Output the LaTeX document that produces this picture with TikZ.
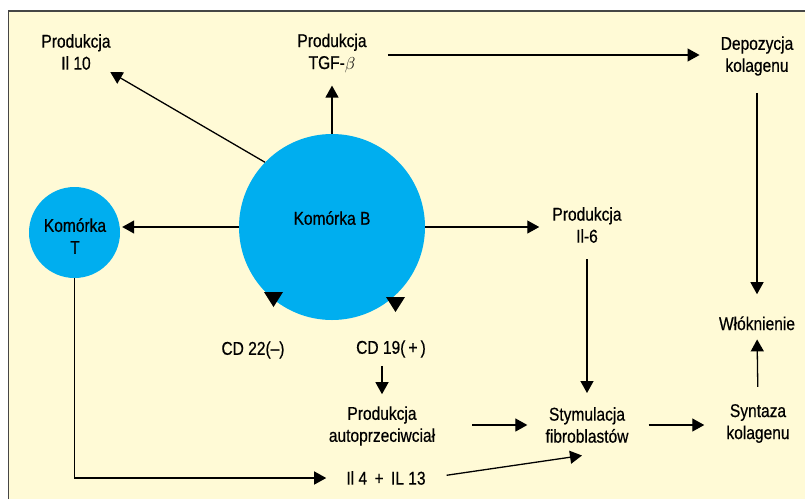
\documentclass[tikz,border=0pt]{standalone}
\usepackage{fontspec}
\setmainfont{Liberation Sans}[FakeStretch=0.84,FakeBold=0.5]
\usetikzlibrary{arrows.meta}
\definecolor{paleyellow}{RGB}{255,250,214}
\definecolor{cellblue}{RGB}{0,174,239}
\definecolor{framegray}{RGB}{70,70,70}

\begin{document}
\begin{tikzpicture}[x=1pt,y=-1pt,
  lbl/.style={align=center,inner sep=2pt,font=\fontsize{18.5}{22}\selectfont},
  cell/.style={circle,fill=cellblue,inner sep=0pt},
  arr/.style={line width=1.3pt,-{Triangle[length=12pt,width=13pt]}}]
  % canvas and frame (cut at right and bottom)
  \useasboundingbox (0,0) rectangle (805,499);
  \fill[white] (0,0) rectangle (805,499);
  \fill[paleyellow] (8.5,11) rectangle (805,499);
  \draw[framegray,line width=1.2pt] (8.5,499) -- (8.5,11) -- (805,11);

  % cells
  \node[cell,minimum size=186pt] (cellB) at (332,227) {};
  \node[lbl] (cellBtxt) at (332,218) {Komórka B};
  \node[cell,minimum size=91pt] (cellT) at (74.5,232.5) {};
  \node[lbl] (cellTtxt) at (75,236) {Komórka\\T};

  % products and effects
  \node[lbl] (il10)  at (76,52)      {Produkcja\\Il 10};
  \node[lbl] (tgf)   at (332,53)     {Produkcja\\TGF-$\beta$};
  \node[lbl] (depo)  at (757,56)     {Depozycja\\kolagenu};
  \node[lbl] (il6)   at (587,225)    {Produkcja\\Il-6};
  \node[lbl] (wlok)  at (757,323.3)  {Włóknienie};
  \node[lbl] (cd22)  at (253,350)    {CD 22(–)};
  \node[lbl] (cd19)  at (391,349)    {CD 19(\,+\,)};
  \node[lbl] (autoab) at (382,426)   {Produkcja\\autoprzeciwciał};
  \node[lbl] (stym)  at (587,425)    {Stymulacja\\fibroblastów};
  \node[lbl] (syn)   at (758,423.5)  {Syntaza\\kolagenu};
  \node[lbl] (il413) at (386,478)    {Il 4 \,+\, IL 13};

  % receptor marks on cell B
  \coordinate (cd22tip) at (273.5,307);
  \coordinate (cd19tip) at (395.5,312);
  \fill (cd22tip) -- ++(-9.5,-15) -- ++(19,0) -- cycle;
  \fill (cd19tip) -- ++(-9.5,-15) -- ++(19,0) -- cycle;

  % connectors
  \draw[arr] (cellB.136) -- (il10);
  \draw[arr,shorten >=11pt] (cellB.north) -- (tgf);
  \draw[arr,shorten <=19pt,shorten >=19pt] ([yshift=-2pt]tgf.east) -- ([yshift=-2pt]tgf.east -| depo.west);
  \draw[arr,shorten <=15pt,shorten >=20pt] (depo.south) -- (wlok.north);
  \draw[arr,shorten <=15pt,shorten >=7pt] (syn.north) -- (wlok.south);
  \draw[arr,shorten >=11pt] (cellB.east) -- (cellB.east -| il6.west);
  \draw[arr,shorten >=2pt] (cellB.west) -- (cellB.west -| cellT.east);
  \draw[arr,shorten <=14pt,shorten >=12pt] (il6.south) -- (stym.north);
  \draw[arr,shorten <=18pt,shorten >=20pt] (stym.east) -- (stym.east -| syn.west);
  \draw[arr,shorten <=35pt,shorten >=16pt] (autoab.east |- stym.west) -- (stym.west);
  \draw[arr,shorten <=6pt,shorten >=10pt] (cd19.south -| autoab.north) -- (autoab.north);
  \draw[arr,shorten >=18pt] (cellT.south) |- (il413.west);
  \draw[arr,shorten <=19pt] (il413.east) -- ([xshift=-5pt,yshift=-10.5pt]stym.south);
\end{tikzpicture}
\end{document}
